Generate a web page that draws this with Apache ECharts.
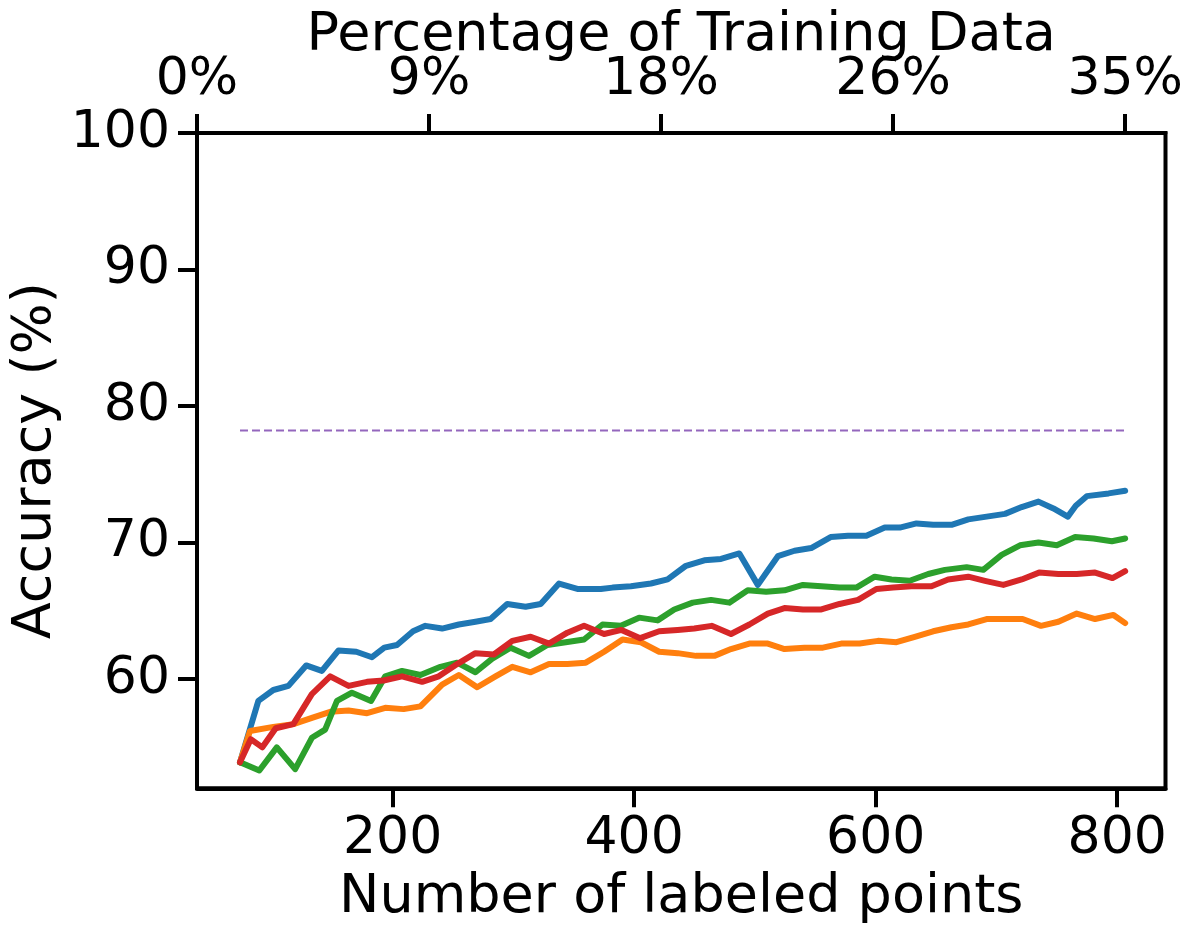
<!DOCTYPE html>
<html>
	<head>
		<meta charset="utf-8">
		<title>Accuracy vs labeled points</title>
		<script src="https://cdn.jsdelivr.net/npm/echarts@6/dist/echarts.min.js"></script>
		<style>
			html, body { margin: 0; padding: 0; background: #fff; }
			#mainCharts { width: 1194px; height: 934px; }
		</style>
	</head>
	<body>
		<div id="mainCharts"></div>
		<script type="text/javascript">
		// values: [labeled points, accuracy %]
		var blueLine = [[73.6,53.9],[88.8,58.4],[101.2,59.2],[113.7,59.5],[128.4,61.0],[141.4,60.6],[155.2,62.1],[169.9,62.0],[182.9,61.6],[193.1,62.3],[203.6,62.5],[216.9,63.5],[227.1,63.9],[241,63.7],[254.8,64.0],[268.6,64.2],[281.1,64.4],[294.9,65.5],[310.1,65.3],[322.6,65.5],[337.8,67.0],[353,66.6],[372.4,66.6],[382.1,66.7],[397.3,66.8],[413.9,67.0],[427.7,67.3],[442.9,68.3],[458.1,68.7],[471.9,68.8],[487.1,69.2],[502.4,66.9],[519,69.0],[532.8,69.4],[546.6,69.6],[562.7,70.4],[577.1,70.5],[592.3,70.5],[607.5,71.1],[620,71.1],[633.8,71.4],[647.6,71.3],[662.8,71.3],[676.7,71.7],[691.9,71.9],[707.1,72.1],[720.9,72.6],[734.8,73.0],[747.2,72.5],[759.1,71.9],[765.7,72.7],[774.8,73.4],[792.9,73.6],[806.6,73.8]];
		var orangeLine = [[73.6,53.9],[81.9,56.2],[101.2,56.5],[117.8,56.7],[134.4,57.2],[148.3,57.6],[163.5,57.7],[178.8,57.5],[193.9,57.9],[209.1,57.8],[223,58.0],[241,59.6],[254.8,60.3],[270,59.4],[285.2,60.2],[299.1,60.9],[314.3,60.5],[329.5,61.1],[344.7,61.1],[359.9,61.2],[375.1,62.0],[390.4,62.9],[405.6,62.7],[420.7,62.0],[436,61.9],[451.2,61.7],[466.4,61.7],[480.2,62.2],[495.4,62.6],[510.7,62.6],[524.5,62.2],[541.1,62.3],[556.3,62.3],[571.5,62.6],[586.7,62.6],[601.9,62.8],[617.2,62.7],[632.4,63.1],[647.6,63.5],[662.8,63.8],[676.7,64.0],[691.9,64.4],[707.1,64.4],[721.7,64.4],[736.9,63.9],[751.3,64.2],[766.5,64.8],[781.7,64.4],[796.9,64.7],[806.6,64.1]];
		var greenLine = [[73.6,53.9],[89.6,53.3],[104.1,55.0],[119.3,53.4],[133.1,55.7],[144.1,56.3],[153.9,58.4],[166.3,59.0],[182.1,58.4],[193.9,60.2],[207.8,60.6],[223,60.3],[239.6,60.9],[253.4,61.2],[268.6,60.5],[282.5,61.5],[297.7,62.3],[312.9,61.7],[328.1,62.5],[343.3,62.7],[358.5,62.9],[373.8,64.0],[389,63.9],[404.1,64.5],[419.4,64.3],[433.2,65.1],[448.5,65.6],[463.7,65.8],[478.8,65.6],[494.1,66.5],[509.3,66.4],[524.5,66.5],[539.8,66.9],[555,66.8],[570.1,66.7],[584,66.7],[599.2,67.5],[613.1,67.3],[628.2,67.2],[643.5,67.7],[657.3,68.0],[675.3,68.2],[689.1,68.0],[704.3,69.1],[719.5,69.8],[734.8,70.0],[750,69.8],[765.2,70.4],[780.4,70.3],[795.6,70.1],[806.6,70.3]];
		var redLine = [[73.6,53.9],[82.5,55.6],[92.1,55.0],[103.2,56.4],[117.8,56.7],[133.1,58.9],[148.3,60.2],[163.5,59.5],[178.8,59.8],[192.5,59.9],[207.8,60.2],[224.4,59.8],[238.2,60.2],[253.4,61.1],[268.6,61.9],[283.8,61.8],[299.1,62.8],[314.3,63.1],[329.5,62.6],[344.7,63.4],[358.5,63.9],[375.1,63.3],[389.5,63.6],[405,63.0],[420.7,63.5],[436,63.6],[449.8,63.7],[464.2,63.9],[480.2,63.3],[495.4,64.0],[510.7,64.8],[524.5,65.2],[539.8,65.1],[555,65.1],[570.1,65.5],[585.4,65.8],[600.6,66.6],[614.4,66.7],[629.5,66.8],[646.2,66.8],[660,67.3],[676.7,67.5],[690.5,67.2],[705.7,66.9],[720.9,67.3],[735.3,67.8],[751.3,67.7],[766.5,67.7],[781.7,67.8],[796.1,67.4],[806.6,67.9]];
		var refLevel = 78.2;

		var bottomTicks = [200, 400, 600, 800];
		var leftTicks = [60, 70, 80, 90, 100];
		var topTickLabels = ['0%', '9%', '18%', '26%', '35%'];

		var xMin = 38, xMax = 840;
		var firstX = blueLine[0][0], lastX = blueLine[blueLine.length - 1][0];
		// top ticks run from the left edge of the axis to the last point
		var topTicks = topTickLabels.map(function (t, i) {
			return xMin + i * (lastX - xMin) / (topTickLabels.length - 1);
		});

		var font = 'DejaVu Sans';
		var tickFont = 52, nameFont = 54;
		var axisCommon = {
			nameMoveOverlap: false,
			axisLine: { lineStyle: { color: '#000', width: 4 } },
			axisTick: { inside: false, length: 19, lineStyle: { color: '#000', width: 4 } },
			splitLine: { show: false },
			nameTextStyle: { color: '#000', fontSize: nameFont, fontFamily: font }
		};

		var myChart = echarts.init(document.getElementById('mainCharts'), null, { renderer: 'canvas' });

		function lineSeries(name, data, color) {
			return {
				name: name,
				type: 'line',
				data: data,
				symbol: 'none',
				smooth: false,
				lineStyle: { color: color, width: 6, cap: 'round', join: 'round' },
				itemStyle: { color: color },
				animation: false
			};
		}

		var option = {
			animation: false,
			backgroundColor: '#fff',
			grid: {
				left: 197, top: 133, right: 28.5, bottom: 145.7,
				containLabel: false, outerBoundsMode: 'none',
				show: true, borderColor: '#000', borderWidth: 4
			},
			xAxis: [
				Object.assign({}, axisCommon, {
					type: 'value', position: 'bottom', min: xMin, max: xMax,
					name: 'Number of labeled points', nameLocation: 'middle', nameGap: 83,
					axisTick: Object.assign({}, axisCommon.axisTick, { customValues: bottomTicks }),
					axisLabel: { customValues: bottomTicks, fontSize: tickFont, fontFamily: font, color: '#000', margin: 25 }
				}),
				Object.assign({}, axisCommon, {
					type: 'value', position: 'top', min: xMin, max: xMax,
					name: 'Percentage of Training Data', nameLocation: 'middle', nameGap: 70,
					axisTick: Object.assign({}, axisCommon.axisTick, { customValues: topTicks }),
					axisLabel: {
						customValues: topTicks, fontSize: tickFont, fontFamily: font, color: '#000', margin: 27,
						formatter: function (v) {
							var best = 0;
							topTicks.forEach(function (t, i) {
								if (Math.abs(t - v) < Math.abs(topTicks[best] - v)) best = i;
							});
							return topTickLabels[best];
						}
					}
				})
			],
			yAxis: Object.assign({}, axisCommon, {
				type: 'value', min: 52, max: 100,
				name: 'Accuracy (%)', nameLocation: 'middle', nameGap: 134, nameRotate: 90,
				axisTick: Object.assign({}, axisCommon.axisTick, { customValues: leftTicks }),
				axisLabel: { customValues: leftTicks, fontSize: tickFont, fontFamily: font, color: '#000', margin: 27 }
			}),
			series: [
				lineSeries('blue', blueLine, '#1f77b4'),
				lineSeries('orange', orangeLine, '#ff7f0e'),
				lineSeries('green', greenLine, '#2ca02c'),
				lineSeries('red', redLine, '#d62728'),
				{
					name: 'reference',
					type: 'line',
					data: [[firstX, refLevel], [lastX, refLevel]],
					symbol: 'none',
					lineStyle: { color: '#9467bd', width: 2, type: [8, 4] },
					animation: false
				}
			]
		};

		myChart.setOption(option);
		</script>
	</body>
</html>
